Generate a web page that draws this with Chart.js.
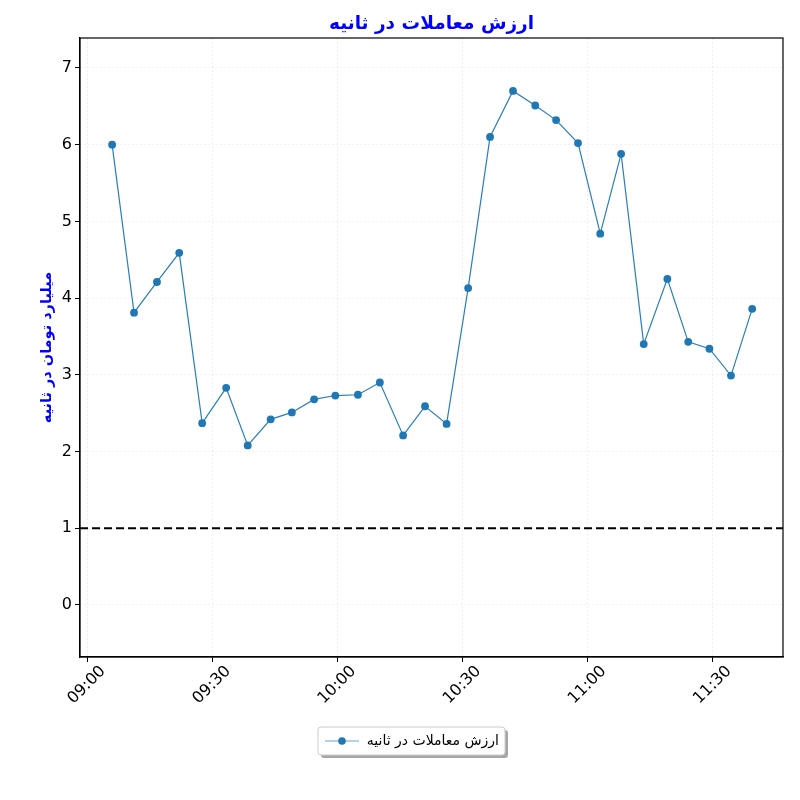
<!DOCTYPE html>
<html>
<head>
<meta charset="utf-8">
<script src="https://cdn.jsdelivr.net/npm/chart.js@4/dist/chart.umd.min.js"></script>
<style>
html,body{margin:0;padding:0;background:#fff;}
#wrap{width:800px;height:800px;}
</style>
</head>
<body>
<div id="wrap"><canvas id="c" width="800" height="800"></canvas></div>
<script>
// ---- data ----
const TITLE = "ارزش معاملات در ثانیه";
const Y_LABEL = "میلیارد تومان در ثانیه";
const SERIES_LABEL = "ارزش معاملات در ثانیه";
const TIMES = ["09:06:00","09:11:15","09:16:45","09:22:05","09:27:35","09:33:20","09:38:30","09:44:00","09:49:05","09:54:25",
               "09:59:30","10:04:55","10:10:10","10:15:45","10:21:00","10:26:10","10:31:20","10:36:35","10:42:05","10:47:25",
               "10:52:25","10:57:40","11:03:00","11:08:00","11:13:25","11:19:05","11:24:05","11:29:10","11:34:20","11:39:25"];
const VALUES = [6.00,3.81,4.21,4.59,2.37,2.83,2.08,2.42,2.51,2.68,
                2.73,2.74,2.90,2.21,2.59,2.36,4.13,6.10,6.70,6.51,
                6.32,6.02,4.84,5.88,3.40,4.25,3.43,3.34,2.99,3.86];
const X_TICKS = ["09:00","09:30","10:00","10:30","11:00","11:30"];
const Y_TICKS = [0,1,2,3,4,5,6,7];
const REF_LINE = 1;

// ---- helpers ----
const BASE = 9*60; // minutes offset of 09:00
function toMin(s){const p=s.split(':').map(Number);return p[0]*60+p[1]+(p[2]||0)/60-BASE;}
function fmt(m){const t=Math.round(m+BASE);const h=Math.floor(t/60),mm=t%60;return String(h).padStart(2,'0')+':'+String(mm).padStart(2,'0');}
const points = TIMES.map((t,i)=>({x:toMin(t),y:VALUES[i]}));
const xTickVals = X_TICKS.map(toMin);

const BLUE = '#1f77b4';
const FONT = "'DejaVu Sans', sans-serif";

const decor = {
  id:'decor',
  beforeDatasetsDraw(chart){
    const {ctx, chartArea:a, scales:{y}} = chart;
    const py = y.getPixelForValue(REF_LINE);
    ctx.save();
    ctx.strokeStyle='#000'; ctx.lineWidth=2; ctx.setLineDash([8,4]);
    ctx.beginPath(); ctx.moveTo(a.left,py); ctx.lineTo(a.right,py); ctx.stroke();
    ctx.restore();
  },
  afterDraw(chart){
    const {ctx, chartArea:a} = chart;
    ctx.save();
    ctx.strokeStyle='#000'; ctx.lineWidth=1.2;
    ctx.strokeRect(a.left, a.top, a.right-a.left, a.bottom-a.top);
    ctx.fillStyle='#0000ff';
    ctx.font="bold 18.5px "+FONT;
    ctx.textAlign='center'; ctx.textBaseline='middle';
    ctx.fillText(TITLE,(a.left+a.right)/2,24);
    const bx=318, by=727, bw=187, bh=28;
    ctx.fillStyle='rgba(0,0,0,0.35)';
    roundRect(ctx,bx+3,by+3,bw,bh,3); ctx.fill();
    ctx.fillStyle='#fff';
    roundRect(ctx,bx,by,bw,bh,3); ctx.fill();
    ctx.strokeStyle='#cccccc'; ctx.lineWidth=1;
    roundRect(ctx,bx,by,bw,bh,3); ctx.stroke();
    ctx.strokeStyle='rgba(31,119,180,0.45)'; ctx.lineWidth=1.5;
    ctx.beginPath(); ctx.moveTo(bx+7,by+bh/2); ctx.lineTo(bx+41,by+bh/2); ctx.stroke();
    ctx.fillStyle=BLUE;
    ctx.beginPath(); ctx.arc(bx+24,by+bh/2,3.8,0,Math.PI*2); ctx.fill();
    ctx.fillStyle='#000'; ctx.font="14px "+FONT;
    ctx.textAlign='right'; ctx.textBaseline='middle';
    ctx.fillText(SERIES_LABEL,bx+bw-6,by+bh/2);
    ctx.restore();
  }
};
function roundRect(ctx,x,y,w,h,r){
  ctx.beginPath();
  ctx.moveTo(x+r,y); ctx.lineTo(x+w-r,y); ctx.quadraticCurveTo(x+w,y,x+w,y+r);
  ctx.lineTo(x+w,y+h-r); ctx.quadraticCurveTo(x+w,y+h,x+w-r,y+h);
  ctx.lineTo(x+r,y+h); ctx.quadraticCurveTo(x,y+h,x,y+h-r);
  ctx.lineTo(x,y+r); ctx.quadraticCurveTo(x,y,x+r,y); ctx.closePath();
}

new Chart(document.getElementById('c'),{
  type:'line',
  data:{datasets:[{
    label:SERIES_LABEL,
    data:points,
    borderColor:'rgba(31,119,180,0.95)',
    borderWidth:1.2,
    backgroundColor:BLUE,
    pointBackgroundColor:BLUE,
    pointBorderColor:BLUE,
    pointRadius:3.9,
    pointBorderWidth:0,
    tension:0,
    fill:false
  }]},
  plugins:[decor],
  options:{
    responsive:false,
    animation:false,
    devicePixelRatio:1,
    layout:{padding:{left:0,right:17,top:38,bottom:0}},
    plugins:{legend:{display:false},title:{display:false},tooltip:{enabled:false}},
    scales:{
      x:{
        type:'linear',
        min:-1.7, max:166.8,
        afterFit(s){s.height=143;},
        afterBuildTicks(s){s.ticks=xTickVals.map(v=>({value:v}));},
        ticks:{
          callback:(v)=>fmt(v),
          minRotation:45, maxRotation:45,
          autoSkip:false,
          labelOffset:16,
          padding:0,
          color:'#000',
          font:{family:FONT,size:16}
        },
        grid:{color:'rgba(0,0,0,0.06)',lineWidth:1,tickLength:5,tickColor:'#000',drawTicks:true},
        border:{display:true,color:'#000',width:1.2,dash:[2,2]}
      },
      y:{
        type:'linear',
        min:-0.678, max:7.39,
        afterFit(s){s.width=80;},
        afterBuildTicks(s){s.ticks=Y_TICKS.map(v=>({value:v}));},
        ticks:{
          callback:(v)=>String(v),
          padding:3,
          color:'#000',
          font:{family:FONT,size:16}
        },
        title:{
          display:true,text:Y_LABEL,color:'#0000ff',
          font:{family:FONT,size:14.5,weight:'bold'},
          padding:{top:39,bottom:0}
        },
        grid:{color:'rgba(0,0,0,0.06)',lineWidth:1,tickLength:5,tickColor:'#000',drawTicks:true},
        border:{display:true,color:'#000',width:1.2,dash:[2,2]}
      }
    }
  }
});
</script>
</body>
</html>
